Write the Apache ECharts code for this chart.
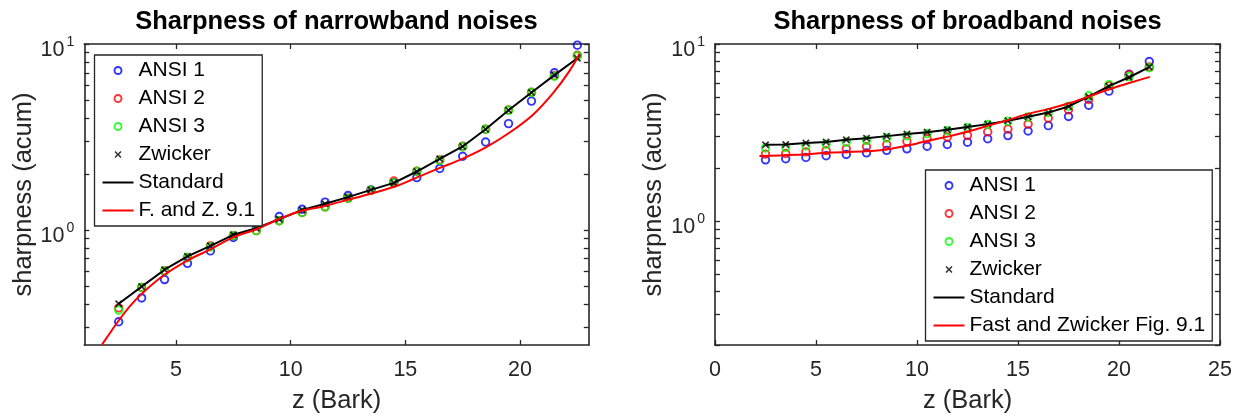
<!DOCTYPE html>
<html><head><meta charset="utf-8">
<script src="https://cdn.jsdelivr.net/npm/echarts@6/dist/echarts.min.js"></script>
<style>html,body{margin:0;padding:0;background:#fff}#c{width:1239px;height:419px}</style>
</head><body><div id="c"></div>
<script>
// ---------- data: narrowband ----------
const zNarrow = [2.5,3.5,4.5,5.5,6.5,7.5,8.5,9.5,10.5,11.5,12.5,13.5,14.5,15.5,16.5,17.5,18.5,19.5,20.5,21.5,22.5];
const ansi1Narrow = [0.32,0.43,0.54,0.66,0.77,0.91,1.05,1.18,1.29,1.41,1.53,1.64,1.79,1.91,2.14,2.49,2.97,3.73,4.93,7.00,9.86];
const ansi2Narrow = [0.38,0.49,0.60,0.71,0.82,0.93,0.99,1.12,1.24,1.33,1.48,1.63,1.83,2.07,2.38,2.82,3.48,4.42,5.50,6.75,8.70];
const ansi3Narrow = [0.37,0.49,0.60,0.71,0.81,0.93,0.99,1.12,1.24,1.33,1.48,1.63,1.79,2.06,2.36,2.80,3.48,4.40,5.48,6.71,8.62];
const zwickerNarrow = [0.40,0.495,0.61,0.72,0.82,0.94,1.02,1.14,1.28,1.38,1.50,1.64,1.79,2.06,2.41,2.81,3.48,4.40,5.48,6.80,8.38];
const standardNarrow = [0.40,0.495,0.61,0.72,0.82,0.94,1.02,1.14,1.28,1.38,1.50,1.64,1.79,2.06,2.41,2.81,3.48,4.40,5.48,6.80,8.38];
const fzNarrowZ = [1.76,2.0,2.5,3.0,3.53,4.48,5.51,6.54,7.49,8.52,9.47,10.42,11.45,12.49,13.52,14.55,15.41,16.45,17.48,18.51,19.55,20.58,21.44,22.13,22.6];
const fzNarrowS = [0.24,0.265,0.325,0.39,0.456,0.571,0.685,0.79,0.91,1.01,1.14,1.26,1.34,1.45,1.57,1.71,1.89,2.14,2.41,2.78,3.34,4.18,5.44,7.08,8.9];

// ---------- data: broadband ----------
const zBroad = [2.5,3.5,4.5,5.5,6.5,7.5,8.5,9.5,10.5,11.5,12.5,13.5,14.5,15.5,16.5,17.5,18.5,19.5,20.5,21.5];
const ansi1Broad = [2.22,2.25,2.29,2.34,2.38,2.43,2.51,2.56,2.65,2.71,2.79,2.92,3.04,3.23,3.46,3.90,4.51,5.42,6.75,7.96];
const ansi2Broad = [2.39,2.41,2.46,2.50,2.56,2.63,2.71,2.82,2.92,2.99,3.05,3.19,3.31,3.53,3.82,4.25,4.86,5.81,6.70,7.43];
const ansi3Broad = [2.59,2.61,2.66,2.72,2.79,2.86,2.95,3.03,3.12,3.24,3.37,3.51,3.67,3.87,4.10,4.46,5.10,5.90,6.55,7.35];
const zwickerBroad = [2.70,2.71,2.76,2.80,2.88,2.94,3.02,3.10,3.18,3.28,3.40,3.53,3.69,3.88,4.10,4.44,5.04,5.78,6.49,7.41];
const standardBroad = [2.70,2.71,2.76,2.80,2.88,2.94,3.02,3.10,3.18,3.28,3.40,3.53,3.69,3.88,4.10,4.44,5.04,5.78,6.49,7.41];
const fzBroadZ = [2.2,4.01,5.74,7.47,8.51,9.55,10.59,11.63,12.67,13.53,14.40,15.44,16.48,17.52,18.55,19.59,20.63,21.53];
const fzBroadS = [2.33,2.37,2.44,2.48,2.54,2.67,2.85,3.02,3.24,3.46,3.69,4.02,4.29,4.63,5.08,5.59,6.08,6.52];

// ---------- ticks / labels ----------
const xTicksNarrow = [5,10,15,20];
const xTicksBroad = [0,5,10,15,20,25];
const yLabelVals = [1,10];
const yTicksNarrow = [0.3,0.4,0.5,0.6,0.7,0.8,0.9,1,2,3,4,5,6,7,8,9,10];
const yTicksBroad = [0.2,0.3,0.4,0.5,0.6,0.7,0.8,0.9,1,2,3,4,5,6,7,8,9,10];
const titles = ['Sharpness of narrowband noises','Sharpness of broadband noises'];
const legendNarrow = ['ANSI 1','ANSI 2','ANSI 3','Zwicker','Standard','F. and Z. 9.1'];
const legendBroad = ['ANSI 1','ANSI 2','ANSI 3','Zwicker','Standard','Fast and Zwicker Fig. 9.1'];

// ---------- styling ----------
const FONT = '"Liberation Sans", Arial, Helvetica, sans-serif';
const AX = '#262626';
const BLUE = '#0000ff', RED = '#ff0000', GREEN = '#00ff00', BLACK = '#000000';
const XMARK = 'path://M0,1.6 L1.6,0 L5,3.4 L8.4,0 L10,1.6 L6.6,5 L10,8.4 L8.4,10 L5,6.6 L1.6,10 L0,8.4 L3.4,5 Z';
const LINEICON = 'path://M0,0 L31,0 L31,2 L0,2 Z';

const pair = (xs, ys) => xs.map((x, i) => [x, ys[i]]);

function xAxes(gi, min, max, ticks, pos, withLabel) {
  return {
    type: 'value', gridIndex: gi, min, max, position: pos,
    name: withLabel ? 'z (Bark)' : '', nameLocation: 'middle', nameGap: 43,
    nameTextStyle: {fontFamily: FONT, fontSize: 25.5, color: AX},
    axisLine: {show: true, onZero: false, lineStyle: {color: AX, width: 1.6}},
    axisTick: {show: true, inside: true, length: 5, customValues: ticks, lineStyle: {color: AX, width: 1.3}},
    axisLabel: {show: withLabel, customValues: ticks, margin: 14, fontFamily: FONT, fontSize: 21.5, color: AX},
    splitLine: {show: false}
  };
}
function yAxes(gi, min, ticks, pos, withLabel) {
  return {
    type: 'log', logBase: 10, gridIndex: gi, min, max: 10, position: pos,
    name: withLabel ? 'sharpness (acum)' : '', nameLocation: 'middle', nameGap: 45,
    nameTextStyle: {fontFamily: FONT, fontSize: 25.5, color: AX},
    axisLine: {show: true, onZero: false, lineStyle: {color: AX, width: 1.6}},
    axisTick: {show: true, inside: true, length: 5, customValues: ticks, lineStyle: {color: AX, width: 1.3}},
    axisLabel: {
      show: withLabel, customValues: yLabelVals, margin: 10, padding: [8, 0, 0, 0],
      formatter: v => '{b|10}{s|' + Math.round(Math.log10(v)) + '}',
      rich: {
        b: {fontFamily: FONT, fontSize: 21.5, color: AX, lineHeight: 26, verticalAlign: 'bottom'},
        s: {fontFamily: FONT, fontSize: 14, color: AX, lineHeight: 26, verticalAlign: 'top', padding: [0, 0, 0, 2]}
      }
    },
    splitLine: {show: false}, minorTick: {show: false}
  };
}
function circles(name, color, xs, ys, gi) {
  return {name, type: 'scatter', xAxisIndex: gi * 2, yAxisIndex: gi * 2, data: pair(xs, ys),
    symbol: 'circle', symbolSize: 7.5,
    itemStyle: {color: 'transparent', borderColor: color, borderWidth: 1.9},
    emphasis: {disabled: true}, silent: true};
}
function xmarks(name, xs, ys, gi) {
  return {name, type: 'scatter', xAxisIndex: gi * 2, yAxisIndex: gi * 2, data: pair(xs, ys),
    symbol: XMARK, symbolSize: 7.5, itemStyle: {color: BLACK},
    emphasis: {disabled: true}, silent: true};
}
function line(name, color, xs, ys, gi, smooth) {
  return {name, type: 'line', xAxisIndex: gi * 2, yAxisIndex: gi * 2, data: pair(xs, ys),
    showSymbol: false, symbol: 'none', smooth: smooth || false,
    lineStyle: {color, width: 2}, itemStyle: {color},
    emphasis: {disabled: true}, silent: true, clip: true};
}
function legendData(names) {
  return [
    {name: names[0], icon: 'circle', itemStyle: {color: 'transparent', borderColor: BLUE, borderWidth: 1.9}},
    {name: names[1], icon: 'circle', itemStyle: {color: 'transparent', borderColor: RED, borderWidth: 1.9}},
    {name: names[2], icon: 'circle', itemStyle: {color: 'transparent', borderColor: GREEN, borderWidth: 1.9}},
    {name: names[3], icon: XMARK, itemStyle: {color: BLACK, borderWidth: 0}},
    {name: names[4], icon: LINEICON, itemStyle: {color: BLACK, borderWidth: 0}},
    {name: names[5], icon: LINEICON, itemStyle: {color: RED, borderWidth: 0}}
  ];
}
function legend(names, left, top) {
  return {
    data: legendData(names), orient: 'vertical', left, top,
    padding: [5, 7, 5, 8], itemGap: 7, itemWidth: 31, itemHeight: 7,
    backgroundColor: '#fff', borderColor: AX, borderWidth: 1.3, borderRadius: 0,
    selectedMode: false,
    textStyle: {fontFamily: FONT, fontSize: 21, color: '#000', lineHeight: 20.5}
  };
}

const chart = echarts.init(document.getElementById('c'), null, {renderer: 'canvas'});
chart.setOption({
  animation: false,
  backgroundColor: '#fff',
  title: [
    {text: titles[0], left: 336.5, top: 9, textAlign: 'center', padding: 0,
     textStyle: {fontFamily: FONT, fontSize: 25.5, fontWeight: 'bold', color: '#000'}},
    {text: titles[1], left: 967.5, top: 9, textAlign: 'center', padding: 0,
     textStyle: {fontFamily: FONT, fontSize: 25.5, fontWeight: 'bold', color: '#000'}}
  ],
  grid: [
    {left: 84.3, top: 44, width: 504.5, height: 305.3},
    {left: 715, top: 44, width: 505, height: 305.3}
  ],
  xAxis: [
    xAxes(0, 1, 23, xTicksNarrow, 'bottom', true),
    xAxes(0, 1, 23, xTicksNarrow, 'top', false),
    xAxes(1, 0, 25, xTicksBroad, 'bottom', true),
    xAxes(1, 0, 25, xTicksBroad, 'top', false)
  ],
  yAxis: [
    yAxes(0, 0.24, yTicksNarrow, 'left', true),
    yAxes(0, 0.24, yTicksNarrow, 'right', false),
    yAxes(1, 0.2, yTicksBroad, 'left', true),
    yAxes(1, 0.2, yTicksBroad, 'right', false)
  ],
  legend: [
    legend(legendNarrow, 94.5, 55),
    legend(legendBroad, 925.5, 170)
  ],
  series: [
    circles('ANSI 1', BLUE, zNarrow, ansi1Narrow, 0),
    circles('ANSI 2', RED, zNarrow, ansi2Narrow, 0),
    circles('ANSI 3', GREEN, zNarrow, ansi3Narrow, 0),
    xmarks('Zwicker', zNarrow, zwickerNarrow, 0),
    line('Standard', BLACK, zNarrow, standardNarrow, 0),
    line('F. and Z. 9.1', RED, fzNarrowZ, fzNarrowS, 0, 0.35),
    circles('ANSI 1', BLUE, zBroad, ansi1Broad, 1),
    circles('ANSI 2', RED, zBroad, ansi2Broad, 1),
    circles('ANSI 3', GREEN, zBroad, ansi3Broad, 1),
    xmarks('Zwicker', zBroad, zwickerBroad, 1),
    line('Standard', BLACK, zBroad, standardBroad, 1),
    line('Fast and Zwicker Fig. 9.1', RED, fzBroadZ, fzBroadS, 1, 0.35)
  ]
});
</script>
</body></html>
